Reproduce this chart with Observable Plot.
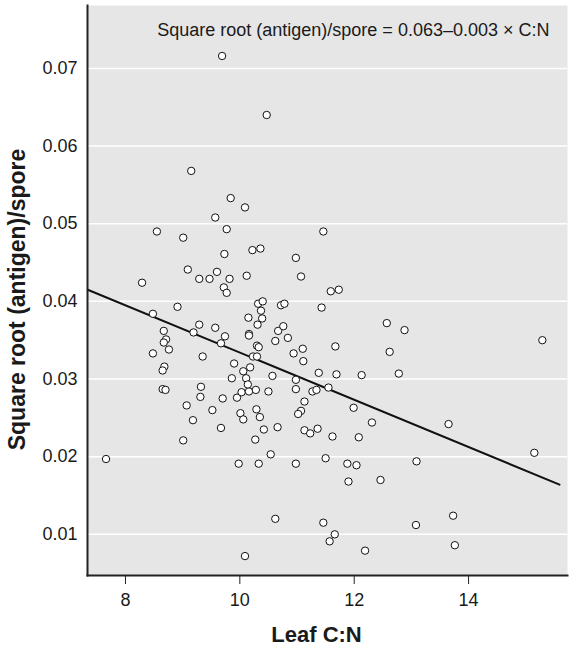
<!DOCTYPE html>
<html><head><meta charset="utf-8">
<script src="https://cdn.jsdelivr.net/npm/d3@7"></script>
<script src="https://cdn.jsdelivr.net/npm/@observablehq/plot@0.6"></script>
<style>body{margin:0;background:#fff}</style>
</head><body><div id="chart"></div>
<script>
const leafCN = [9.69,10.47,9.15,9.84,10.09,9.57,9.77,8.55,9.01,9.73,
10.22,10.36,9.09,9.29,9.47,9.60,9.82,10.12,8.29,9.72,
9.77,8.91,10.32,10.40,10.72,10.78,8.48,10.15,10.37,10.39,
11.46,10.98,11.07,11.59,11.73,11.43,12.57,12.88,15.29,9.29,
9.57,9.19,8.67,8.71,8.67,8.76,8.48,9.35,9.67,9.74,
10.31,10.16,10.16,10.30,10.33,10.23,10.30,9.90,10.18,10.06,
9.86,10.11,10.57,10.67,10.76,10.84,10.62,11.10,10.94,11.11,
11.67,12.62,11.38,11.69,12.13,12.78,10.98,10.98,11.27,11.34,
11.55,11.13,11.07,11.02,11.99,12.31,13.65,10.66,11.13,11.23,
11.36,11.62,12.08,15.15,10.98,11.50,11.88,12.04,13.09,11.90,
12.46,11.46,11.66,11.57,12.19,13.08,13.73,13.76,
8.68,8.65,8.65,8.70,9.32,9.31,9.70,9.95,10.03,10.16,10.28,10.50,
10.14,9.07,9.52,10.01,10.06,10.29,10.35,9.18,9.67,10.42,
9.01,10.27,7.66,9.98,10.33,10.54,10.62,10.09];
const antigen = [0.0716,0.0640,0.0568,0.0533,0.0521,0.0508,0.0493,0.0490,0.0482,0.0461,
0.0466,0.0468,0.0441,0.0429,0.0429,0.0438,0.0429,0.0433,0.0424,0.0418,
0.0411,0.0393,0.0397,0.0400,0.0395,0.0397,0.0384,0.0379,0.0388,0.0378,
0.0490,0.0456,0.0432,0.0413,0.0415,0.0392,0.0372,0.0363,0.0350,0.0370,
0.0366,0.0360,0.0362,0.0351,0.0347,0.0338,0.0333,0.0329,0.0346,0.0355,
0.0370,0.0358,0.0356,0.0343,0.0341,0.0329,0.0329,0.0320,0.0315,0.0310,
0.0301,0.0301,0.0304,0.0362,0.0368,0.0353,0.0349,0.0339,0.0333,0.0323,
0.0342,0.0335,0.0308,0.0306,0.0305,0.0307,0.0299,0.0287,0.0284,0.0286,
0.0289,0.0271,0.0259,0.0255,0.0263,0.0244,0.0242,0.0238,0.0234,0.0230,
0.0236,0.0226,0.0225,0.0205,0.0191,0.0198,0.0191,0.0189,0.0194,0.0168,
0.0170,0.0115,0.0100,0.0091,0.0079,0.0112,0.0124,0.0086,
0.0316,0.0311,0.0287,0.0286,0.0290,0.0277,0.0275,0.0276,0.0283,0.0284,0.0286,0.0284,
0.0293,0.0266,0.0260,0.0256,0.0248,0.0261,0.0251,0.0247,0.0237,0.0235,
0.0221,0.0222,0.0197,0.0191,0.0191,0.0203,0.0120,0.0072];
const fitCN = [7.34, 15.59];
const fitAntigen = [0.0415, 0.0164];
const xTicks = [8, 10, 12, 14];
const yTicks = [0.01, 0.02, 0.03, 0.04, 0.05, 0.06, 0.07];
const equation = "Square root (antigen)/spore = 0.063\u20130.003 \u00d7 C:N";
const xTitle = "Leaf C:N";
const yTitle = "Square root (antigen)/spore";

const points = leafCN.map((x, i) => ({x, y: antigen[i]}));
const fit = fitCN.map((x, i) => ({x, y: fitAntigen[i]}));

const chart = Plot.plot({
  width: 573, height: 648,
  marginLeft: 87, marginRight: 6, marginTop: 5, marginBottom: 73,
  style: {fontFamily: "'Liberation Sans', Arial, sans-serif", background: "#fff", color: "#1a1a1a"},
  x: {domain: [7.336, 15.73], ticks: xTicks},
  y: {domain: [0.0047, 0.0781], ticks: yTicks},
  marks: [
    Plot.frame({fill: "#e6e6e6", stroke: "none"}),
    Plot.gridY(yTicks, {stroke: "#fff", strokeOpacity: 1, strokeWidth: 1.5}),
    Plot.line(fit, {x: "x", y: "y", stroke: "#111", strokeWidth: 2}),
    Plot.dot(points, {x: "x", y: "y", r: 3.7, fill: "#fff", stroke: "#111", strokeWidth: 1}),
    Plot.frame({anchor: "left", stroke: "#222", strokeWidth: 2}),
    Plot.frame({anchor: "bottom", stroke: "#222", strokeWidth: 2}),
    Plot.axisX(xTicks, {tickSize: 9, tickPadding: 9, fontSize: 18, label: null, stroke: "#222"}),
    Plot.axisY(yTicks, {tickSize: 0, tickPadding: 10, fontSize: 18, tickFormat: d => d.toFixed(2), label: null}),
    Plot.text([equation], {text: d => d, frameAnchor: "top-right", textAnchor: "end", lineAnchor: "top", dx: -18, dy: 18, fontSize: 18, fill: "#1a1a1a"}),
    Plot.text([xTitle], {text: d => d, frameAnchor: "bottom", textAnchor: "middle", lineAnchor: "middle", dx: -11, dy: 59, fontSize: 22, fontWeight: "bold", fill: "#1a1a1a"}),
    Plot.text([yTitle], {text: d => d, frameAnchor: "left", textAnchor: "middle", lineAnchor: "middle", rotate: -90, dx: -70, dy: 9, fontSize: 23, fontWeight: "bold", fill: "#1a1a1a"})
  ]
});
document.getElementById("chart").appendChild(chart);
</script>
</body></html>
